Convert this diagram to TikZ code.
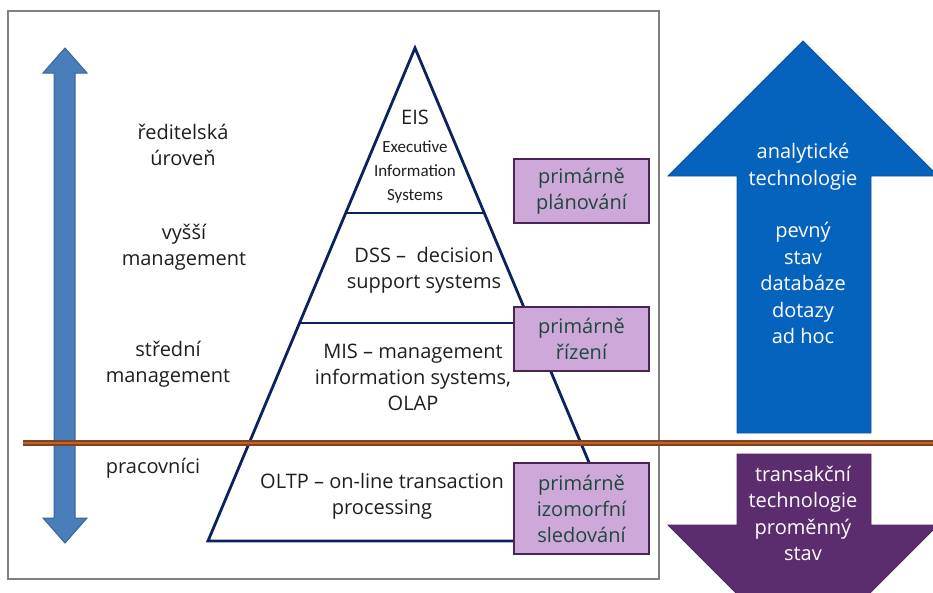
\documentclass[tikz,border=0pt]{standalone}
\usepackage{fontspec}
\setmainfont{Open Sans}
\newfontfamily\carlitofont{Carlito}
\definecolor{framegray}{RGB}{128,128,128}
\definecolor{navy}{RGB}{10,35,95}
\definecolor{steelfill}{RGB}{74,126,187}
\definecolor{steeledge}{RGB}{58,100,150}
\definecolor{bigblue}{RGB}{5,99,190}
\definecolor{bigblueedge}{RGB}{20,80,150}
\definecolor{darkpurple}{RGB}{92,45,110}
\definecolor{boxfill}{RGB}{206,168,216}
\definecolor{boxedge}{RGB}{72,38,84}
\definecolor{boxtext}{RGB}{30,72,62}
\definecolor{browndark}{RGB}{135,65,25}
\definecolor{brownlight}{RGB}{185,100,50}
\definecolor{txt}{RGB}{30,30,30}
\tikzset{
  lbl/.style={align=center, font=\fontsize{20}{26}\selectfont, text=txt, inner sep=0pt},
  small/.style={align=center, font=\carlitofont\fontsize{17}{24}\selectfont, text=txt, inner sep=0pt},
  pbox/.style={draw=boxedge, line width=2.2pt, fill=boxfill, align=center, text=boxtext,
    font=\fontsize{20}{26}\selectfont, minimum width=135pt, inner sep=0pt},
  wtxt/.style={align=center, text=white, font=\fontsize{20}{26.4}\selectfont, inner sep=0pt},
  pyr/.style={draw=navy, line width=2.8pt, line join=miter},
}
\begin{document}
\begin{tikzpicture}[x=1pt,y=-1pt]
\useasboundingbox (0,0) rectangle (933,592);
\clip (0,0) rectangle (933,592);
% frame
\draw[framegray, line width=1.3pt] (8,11) rectangle (659,579);
% left double arrow
\draw[steeledge, fill=steelfill, line width=1pt]
  (54,73) -- (43,73) -- (65,48) -- (87,73) -- (75,73) -- (75,518) -- (87,518)
  -- (65,543) -- (43,518) -- (54,518) -- cycle;
% pyramid
\coordinate (apex) at (415,48);
\coordinate (bl) at (208,541);
\coordinate (br) at (622,541);
\coordinate (d1l) at (345.7,213);
\coordinate (d1r) at (484.3,213);
\coordinate (d2l) at (299.5,323);
\coordinate (d2r) at (530.5,323);
\draw[pyr] (apex) -- (bl) -- (br) -- cycle;
\draw[pyr] (d1l) -- (d1r);
\draw[pyr] (d2l) -- (d2r);
% brown line
\draw[browndark, line width=6.5pt] (23,443) -- (940,443);
\draw[brownlight, line width=2pt] (23,443) -- (940,443);
% big blue up arrow
\draw[bigblueedge, fill=bigblue, line width=0.8pt]
  (737,433) -- (737,176) -- (668,176) -- (803,41) -- (938,176) -- (871,176) -- (871,433) -- cycle;
% purple down arrow
\draw[darkpurple!85!black, fill=darkpurple, line width=0.8pt]
  (737,454) -- (871,454) -- (871,525) -- (938,525) -- (803,660) -- (668,525) -- (737,525) -- cycle;
% left labels
\node[lbl] (reditel) at (183,145) {ředitelská\\úroveň};
\node[lbl] (vyssi) at (184,247) {vyšší\\management};
\node[lbl] (stredni) at (168,364) {střední\\management};
\node[lbl] (pracovnici) at (153,468) {pracovníci};
% pyramid labels
\node[lbl] (eis) at (415,117) {EIS};
\node[small] (eisfull) at (415,172) {Executive\\Information\\Systems};
\node[lbl] (dss) at (424,270) {DSS –\ \ decision\\support systems};
\node[lbl] (mis) at (413,377) {MIS – management\\information systems,\\OLAP};
\node[lbl] (oltp) at (382,496) {OLTP – on-line transaction\\processing};
% purple boxes
\node[pbox, minimum height=64pt] (b1) at (581.5,191) {primárně\\plánování};
\node[pbox, minimum height=64pt] (b2) at (581.5,339) {primárně\\řízení};
\node[pbox, minimum height=91pt] (b3) at (581.5,508.5) {primárně\\izomorfní\\sledování};
% arrow texts
\node[wtxt] (anal) at (803,243.5) {analytické\\technologie\\[26.4pt]pevný\\stav\\databáze\\dotazy\\ad hoc};
\node[wtxt] (trans) at (803,513.5) {transakční\\technologie\\proměnný\\stav};
\end{tikzpicture}
\end{document}
